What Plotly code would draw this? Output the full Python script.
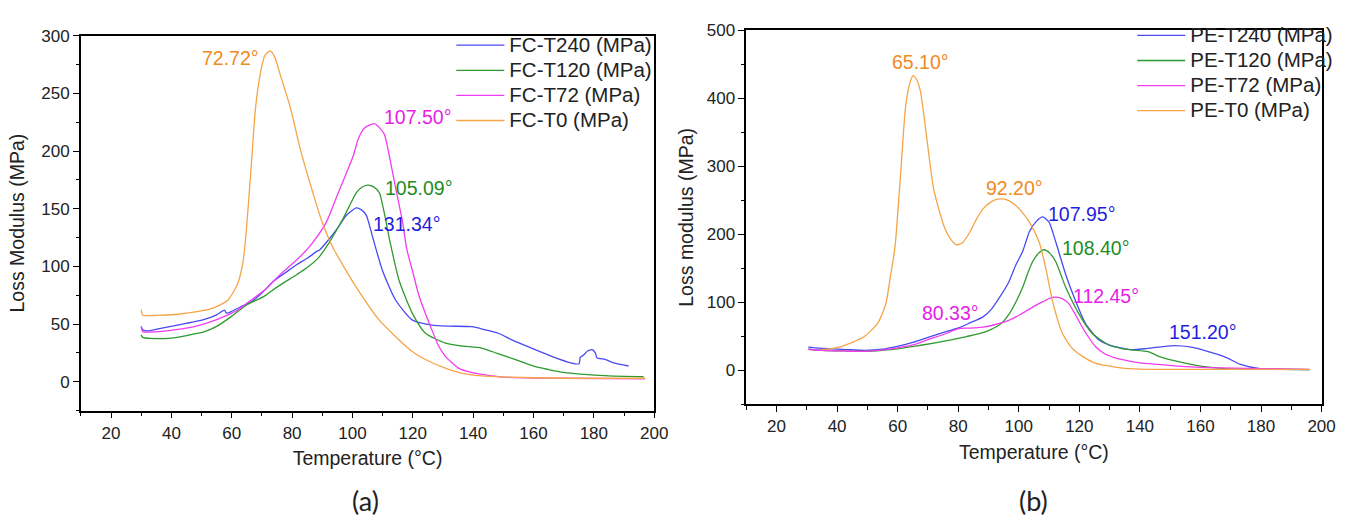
import plotly.graph_objects as go

# ---------------- Panel (a): FC samples ----------------
fc_t240_x = [30, 30.5, 32, 36, 42, 47.7, 52, 55, 57.6, 58.2, 60, 63, 66.3, 70, 74, 78, 81.6, 85, 88.2, 89, 92.5, 95, 98, 101.3, 103, 104.6, 106.8, 110, 114.4, 119.9, 126.4, 132, 139.6, 144, 148.3, 153, 159.2, 166, 172.3, 175.1, 175.5, 176.8, 177.8, 179.4, 180.5, 181, 183.7, 186.6, 191.5]
fc_t240_y = [48, 45, 44, 46, 49, 52, 55, 58, 62, 59.5, 61, 65, 69, 77, 87.5, 95, 101.7, 107, 113, 114, 124.4, 133, 144.3, 150.8, 149, 144.3, 124.4, 96, 70.4, 53.4, 49.1, 48.2, 47.7, 45, 42, 36, 29.2, 22, 16.4, 15.5, 21, 23.5, 26.4, 27.8, 25, 20.7, 19.3, 16.4, 13.6]

fc_t120_x = [30, 30.5, 33, 40, 45, 51, 55, 59.7, 65.2, 70.7, 75, 81.6, 85, 88.7, 92.5, 96.9, 101.3, 103, 105.1, 107, 108.9, 110.5, 112.2, 115.5, 119.9, 124.2, 130.8, 136, 142.8, 148, 153.8, 160, 164.7, 170, 175.6, 185, 196.5]
fc_t120_y = [40.6, 38.4, 37.5, 37.8, 40, 43.4, 48, 56.2, 67, 74, 82, 93, 99, 107.4, 121.5, 141.5, 164, 168.5, 170.5, 169, 164, 147, 124.4, 87.5, 59, 42, 33.5, 31, 29.2, 24.5, 19.3, 13.5, 10.7, 8, 6.5, 5, 4.3]

fc_t72_x = [30, 30.5, 33, 42.2, 48, 53.2, 58, 61.9, 66, 70.7, 76.1, 80, 84, 87.1, 91.4, 95, 98, 100.2, 102, 104, 107.3, 110.5, 112.2, 114, 116.6, 118, 119.9, 122, 124.2, 126, 128.6, 130.8, 135, 139.6, 150, 170, 197]
fc_t72_y = [48, 43.4, 43, 45.4, 48, 52, 57, 61.9, 70, 79, 93, 102, 112, 121.5, 138.6, 162, 181, 195.4, 211, 220, 223.8, 215, 196, 172, 138.6, 115, 96, 75, 59, 47, 30.7, 22, 12, 7.9, 4, 3, 2.5]

fc_t0_x = [30, 30.5, 35, 42.2, 48, 53.2, 58.6, 61.9, 63.6, 64.6, 66.3, 67.9, 69.6, 71, 72.7, 74.2, 76.1, 79.4, 82.7, 87.1, 90, 93.6, 101.3, 108.9, 117.7, 121, 126.4, 131.9, 136, 142.8, 150, 170, 197]
fc_t0_y = [62.5, 57.7, 57.5, 58.5, 60.5, 63.3, 70.4, 84.6, 101.7, 124, 181, 238, 269, 283, 287, 282, 266, 238, 202, 162, 138, 116, 81.8, 53.4, 30.7, 24, 16.4, 10.7, 7.5, 5, 4, 3, 3]

# ---------------- Panel (b): PE samples ----------------
pe_t240_x = [30.5, 33, 37, 43, 49, 55, 59.9, 65, 70.8, 76, 80.6, 84, 88.2, 91, 93.7, 96.5, 99.1, 101.3, 103.5, 105.8, 107.9, 110, 112.2, 115.5, 118.7, 122, 126.4, 130, 134, 137.3, 142, 147, 151.4, 157, 162.3, 166, 168.8, 173.2, 179.7, 188, 196]
pe_t240_y = [34.2, 33, 31.8, 30.5, 29.4, 31, 35.2, 41, 49.7, 57, 63, 70, 78.6, 90, 107.5, 128, 155.6, 175, 203.8, 219, 225.5, 218, 189, 141, 102.6, 69, 44.8, 37, 32.8, 30.3, 32, 34.5, 36.2, 34, 28, 23, 18.3, 8.7, 2.4, 1.5, 1]

pe_t120_x = [30.5, 35, 42, 49, 55, 60, 65.3, 72, 78, 82.8, 87, 90.4, 94, 96.9, 99, 101.3, 103, 104.6, 106.5, 108.4, 110.3, 112.2, 115.5, 119.8, 124.2, 129.6, 134, 137.3, 142.7, 146, 151, 156.9, 162, 167.8, 180, 196]
pe_t120_y = [31, 29.5, 28.5, 28, 29.5, 31.5, 35.2, 40, 45, 49.7, 54, 59.2, 68, 83.4, 100, 122, 143, 160, 172, 177.3, 172, 160, 122, 83.4, 54.5, 37.6, 32, 30, 27.5, 21, 14.5, 8.7, 5, 2.5, 1.5, 1]

pe_t72_x = [30.5, 35, 42, 49, 55, 60, 65.3, 70, 76.3, 78.5, 80.6, 84, 88.2, 92, 96.9, 100.5, 104.6, 108, 110.3, 112.2, 114.5, 116.6, 118.7, 120.9, 123, 125.3, 128.5, 131.8, 135, 140, 146, 155, 162.3, 180, 196]
pe_t72_y = [31, 29.5, 28.5, 28, 30, 33, 37.6, 45, 54.5, 59, 61.7, 62, 63.5, 67, 73.7, 82, 93, 101, 106, 107.5, 105, 97.8, 82, 64, 49, 35, 24, 18.3, 15, 11, 8.7, 5.5, 4, 2.5, 1.5]

pe_t0_x = [35, 38, 41.4, 45, 49, 53.4, 56.1, 57.7, 58.8, 59.4, 61, 62.6, 64, 65.1, 66.2, 67.5, 69.7, 71.9, 75.2, 77.5, 79.5, 81.5, 83.9, 86, 88.2, 91, 93.7, 96.5, 99.1, 101, 103.5, 106.7, 108.9, 111.1, 114.4, 117.5, 120.9, 125, 129.6, 135, 142.7, 160, 196]
pe_t0_y = [30.5, 32, 35, 41, 49.7, 69, 97.8, 141, 170, 194, 290, 386.8, 422, 433.5, 428, 411, 338.7, 266.5, 213.4, 193, 184.5, 188, 203.8, 222, 237.5, 248, 252, 250, 242, 233, 218, 189, 150.8, 102.6, 54.5, 33, 20.8, 11, 6.4, 3, 1.5, 1.5, 1.5]

fc_names = ["FC-T240 (MPa)", "FC-T120 (MPa)", "FC-T72 (MPa)", "FC-T0 (MPa)"]
pe_names = ["PE-T240 (MPa)", "PE-T120 (MPa)", "PE-T72 (MPa)", "PE-T0 (MPa)"]

# peak labels
fc_label_text = ["72.72°", "107.50°", "105.09°", "131.34°"]
fc_label_x = [59.6, 121.7, 122.0, 117.9]
fc_label_y = [280.7, 229.5, 168.4, 137.2]
fc_label_col = ["orange", "magenta", "green", "blue"]

pe_label_text = ["65.10°", "92.20°", "107.95°", "108.40°", "112.45°", "80.33°", "151.20°"]
pe_label_x = [67.5, 98.6, 120.6, 125.5, 128.8, 77.5, 160.7]
pe_label_y = [453.3, 268.8, 230.3, 179.8, 109.8, 84.4, 56.9]
pe_label_col = ["orange", "orange", "blue", "green", "magenta", "magenta", "blue"]

line_colors = {"blue": "#4a4af5", "green": "#2f9a2f", "magenta": "#f23cf2", "orange": "#f5a447"}
text_colors = {"blue": "#1f1fe0", "green": "#1f8c1f", "magenta": "#e61ee6", "orange": "#f08a24"}
order = ["blue", "green", "magenta", "orange"]

FONT = "Arial, Liberation Sans, sans-serif"
LEG_SPAN = '<span style="font-size:20.5px">{}</span>'

fig = go.Figure()

fc_series = [(fc_t240_x, fc_t240_y), (fc_t120_x, fc_t120_y), (fc_t72_x, fc_t72_y), (fc_t0_x, fc_t0_y)]
pe_series = [(pe_t240_x, pe_t240_y), (pe_t120_x, pe_t120_y), (pe_t72_x, pe_t72_y), (pe_t0_x, pe_t0_y)]

for (xs, ys), name, c in zip(fc_series, fc_names, order):
    fig.add_trace(go.Scatter(x=xs, y=ys, name=LEG_SPAN.format(name), mode="lines",
                             line=dict(color=line_colors[c], width=1.3, shape="spline", smoothing=0.6),
                             xaxis="x", yaxis="y", legend="legend"))
for (xs, ys), name, c in zip(pe_series, pe_names, order):
    fig.add_trace(go.Scatter(x=xs, y=ys, name=LEG_SPAN.format(name), mode="lines",
                             line=dict(color=line_colors[c], width=1.3, shape="spline", smoothing=0.6),
                             xaxis="x2", yaxis="y2", legend="legend2"))

W, H = 1362, 518
def fx(px):
    return px / W
def fy(py):
    return 1 - py / H

axis_common = dict(showline=True, linecolor="black", linewidth=1.5, mirror=True,
                   ticks="outside", ticklen=6, tickwidth=1.3, tickcolor="black",
                   showgrid=False, zeroline=False,
                   tickfont=dict(family=FONT, size=17, color="#222"),
                   title_font=dict(family=FONT, size=19.5, color="#222"))
minor_common = dict(ticks="outside", ticklen=3.5, tickwidth=1.2, tickcolor="black")

fig.update_layout(
    width=W, height=H, margin=dict(l=0, r=0, t=0, b=0),
    paper_bgcolor="white", plot_bgcolor="white",
    font=dict(family=FONT, color="#222"),
    xaxis=dict(domain=[fx(81.7), fx(661)], range=[10, 200], dtick=20, tick0=0,
               minor=dict(dtick=10, **minor_common),
               title=dict(text="Temperature (°C)", standoff=10), anchor="y", **axis_common),
    yaxis=dict(domain=[fy(408.6), fy(27.3)], range=[-25, 300], dtick=50, tick0=0,
               minor=dict(dtick=25, **minor_common),
               title=dict(text="Loss Modulus (MPa)", standoff=12), anchor="x", **axis_common),
    xaxis2=dict(domain=[fx(754), fx(1335.3)], range=[10, 200], dtick=20, tick0=0,
                minor=dict(dtick=10, **minor_common),
                title=dict(text="Temperature (°C)", standoff=10), anchor="y2", **axis_common),
    yaxis2=dict(domain=[fy(402.3), fy(21.7)], range=[-50, 500], dtick=100, tick0=0,
                minor=dict(dtick=50, **minor_common),
                title=dict(text="Loss modulus (MPa)", standoff=8), anchor="x2", **axis_common),
    legend=dict(x=fx(456), y=fy(19), xanchor="left", yanchor="top", bgcolor="rgba(0,0,0,0)",
                font=dict(family=FONT, size=17, color="#222"), itemwidth=48, tracegroupgap=0),
    legend2=dict(x=fx(1144), y=fy(9), xanchor="left", yanchor="top", bgcolor="rgba(0,0,0,0)",
                 font=dict(family=FONT, size=17, color="#222"), itemwidth=48, tracegroupgap=0),
    showlegend=True,
)

annotations = []
for t, x, y, c in zip(fc_label_text, fc_label_x, fc_label_y, fc_label_col):
    annotations.append(dict(text=t, x=x, y=y, xref="x", yref="y", showarrow=False,
                            xanchor="center", yanchor="middle",
                            font=dict(family=FONT, size=19.5, color=text_colors[c])))
for t, x, y, c in zip(pe_label_text, pe_label_x, pe_label_y, pe_label_col):
    annotations.append(dict(text=t, x=x, y=y, xref="x2", yref="y2", showarrow=False,
                            xanchor="center", yanchor="middle",
                            font=dict(family=FONT, size=19.5, color=text_colors[c])))
annotations.append(dict(text="(a)", x=fx(369), y=fy(500), xref="paper", yref="paper", showarrow=False,
                        xanchor="center", yanchor="middle", font=dict(family="Lato, Open Sans, sans-serif", size=27, color="#222")))
annotations.append(dict(text="(b)", x=fx(1044), y=fy(500), xref="paper", yref="paper", showarrow=False,
                        xanchor="center", yanchor="middle", font=dict(family="Lato, Open Sans, sans-serif", size=27, color="#222")))
fig.update_layout(annotations=annotations)

fig.write_html("out.html")
